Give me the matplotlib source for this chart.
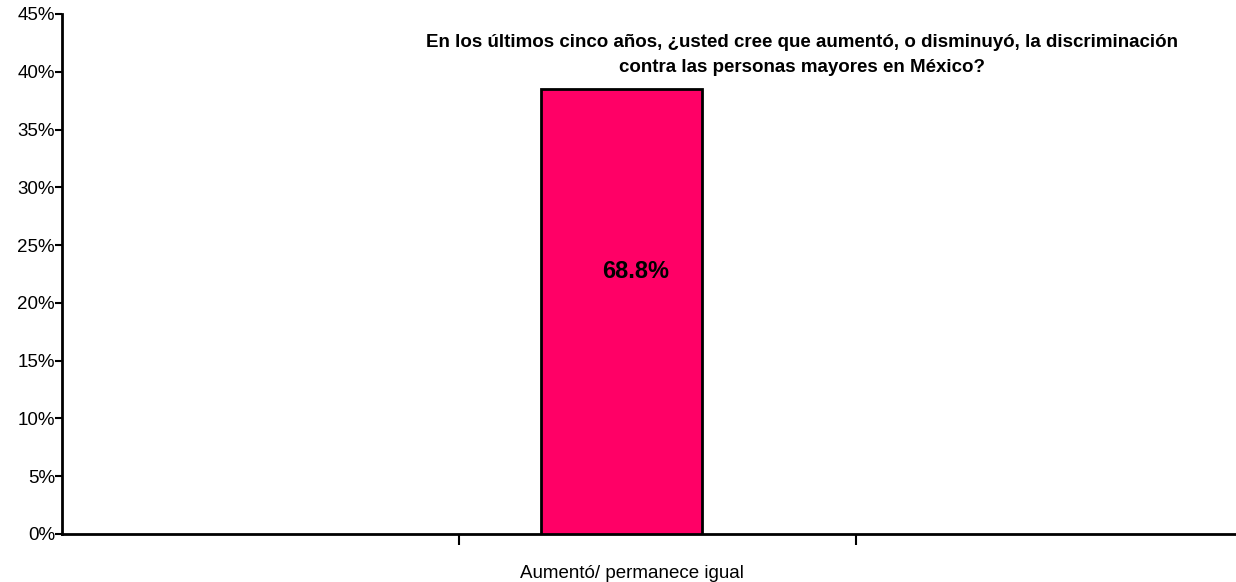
import matplotlib.pyplot as plt
import numpy as np

# data
categories = ["Aumentó/ permanece igual"]
bar_heights = [38.5]          # position on the 0-45% scale
bar_labels = ["68.8%"]
y_ticks = list(range(0, 50, 5))
title = ("En los últimos cinco años, ¿usted cree que aumentó, o disminuyó, la discriminación\n"
         "contra las personas mayores en México?")

plt.rcParams['font.family'] = ['Liberation Sans', 'DejaVu Sans']

fig = plt.figure(figsize=(12.36, 5.82), dpi=100)
ax = fig.add_axes([62 / 1236, 1 - 534 / 582, 1 - 62 / 1236, (534 - 14) / 582])

slot = 1                      # middle category slot
offset = -0.09
x = np.arange(len(bar_heights)) + slot + offset
ax.bar(x, bar_heights, width=0.405, color="#FF0066", edgecolor="black", linewidth=2, zorder=3)

for xi, h, lab in zip(x, bar_heights, bar_labels):
    ax.text(xi + 0.035, h * 0.59, lab, ha="center", va="center",
            fontsize=17, fontweight="bold", color="black", zorder=4)

ax.set_xlim(-0.5, -0.5 + (1236 - 62) / 397)
ax.set_ylim(0, 45)

ax.set_yticks(y_ticks)
ax.set_yticklabels([f"{t}%" for t in y_ticks], fontsize=13.5)
ax.tick_params(axis="y", direction="out", length=5, width=1.5, pad=0)

# category label as a major tick without mark, boundaries as minor ticks
ax.set_xticks([slot - 0.065])
ax.set_xticklabels(categories, fontsize=13.5)
ax.tick_params(axis="x", which="major", length=0, pad=22)
ax.set_xticks([0.5, 1.5], minor=True)
ax.tick_params(axis="x", which="minor", direction="out", length=8, width=1.5)

for s in ["top", "right"]:
    ax.spines[s].set_visible(False)
for s in ["left", "bottom"]:
    ax.spines[s].set_linewidth(2)

fig.text(802 / 1236, 1 - 55 / 582, title, ha="center", va="center",
         fontsize=13.5, fontweight="bold", linespacing=1.55)

fig.savefig("out.png", dpi=100)
